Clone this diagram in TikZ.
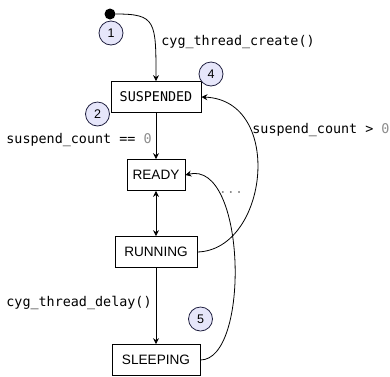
\documentclass[tikz,border=0pt]{standalone}
\usepackage{fontspec}
\setmainfont{Liberation Sans}
\setmonofont{DejaVu Sans Mono}
\usetikzlibrary{arrows.meta}

\definecolor{numfill}{HTML}{E6E6FA}
\definecolor{numline}{HTML}{202040}
\definecolor{codegray}{gray}{0.55}

\tikzset{
  state/.style={draw, line width=0.8pt, minimum height=31pt, inner sep=0pt,
    font=\fontsize{13.6}{15}\selectfont},
  num/.style={circle, draw=numline, line width=0.8pt, fill=numfill,
    minimum size=24pt, inner sep=0pt, font=\fontsize{12.5}{13}\selectfont},
  code/.style={inner sep=1pt, font=\ttfamily\fontsize{13.4}{15}\selectfont},
}

\begin{document}
\begin{tikzpicture}[x=1pt,y=-1pt,>={Stealth[length=6pt,width=6pt,inset=2pt]},line width=0.8pt]
  \useasboundingbox (0,0) rectangle (390,376);

  % 状態
  \node[circle, fill, minimum size=11pt, inner sep=0pt] (init) at (110,14) {};
  \node[state, minimum width=90pt, font=\ttfamily\fontsize{13.4}{15}\selectfont] (suspended) at (156,97) {SUSPENDED};
  \node[state, minimum width=58pt] (ready) at (156,175) {READY};
  \node[state, minimum width=82pt] (running) at (156,252) {RUNNING};
  \node[state, minimum width=88pt] (sleeping) at (156,360) {SLEEPING};

  % 番号
  \node[num] (n1) at (111,33) {1};
  \node[num] (n2) at (97.5,114) {2};
  \node[num] (n4) at (211,74) {4};
  \node[num] (n5) at (200.5,319) {5};

  % 遷移
  \draw[->] (init.east) .. controls +(40,0) and +(0,-60) .. (suspended.north);
  \draw[->] (suspended.south) -- (ready.north);
  \draw[<->] (ready.south) -- (running.north);
  \draw[->] (running.south) -- (sleeping.north);
  \draw[->] (running.east) .. controls +(71,-2) and +(83,3) .. (suspended.east);
  \draw[->] (sleeping.east) .. controls +(50,0) and +(61,-15) .. (ready.east);

  % ラベル
  \node[code, anchor=west] (create) at (160,42) {cyg\_thread\_create()};
  \node[code, anchor=east] (eqzero) at (153,140) {suspend\_count == {\color{codegray}0}};
  \node[code, anchor=west] (gtzero) at (251,130) {suspend\_count > {\color{codegray}0}};
  \node[code, anchor=east] (delay) at (153,303) {cyg\_thread\_delay()};
  \node[code, text=codegray] (dots) at (231,192) {...};

\end{tikzpicture}
\end{document}
